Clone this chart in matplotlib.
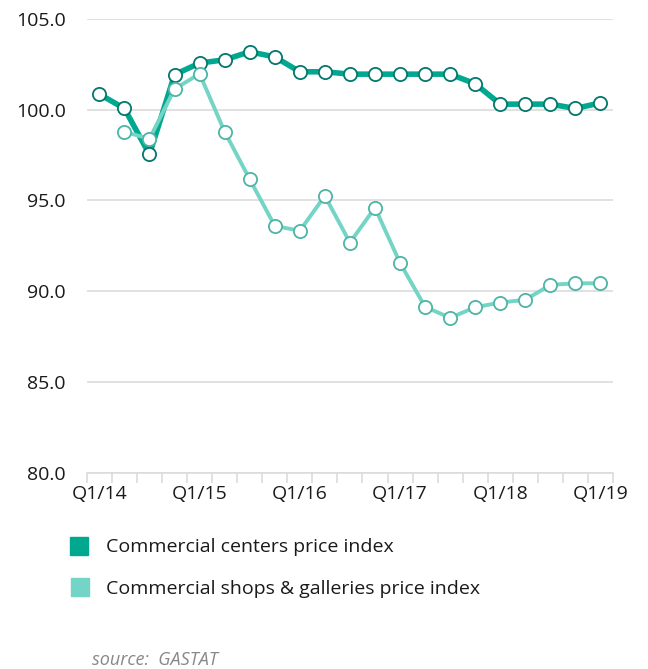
import matplotlib.pyplot as plt
import numpy as np

# quarterly price indices, Q1/14 .. Q1/19
quarters = ["Q1/14", "Q2/14", "Q3/14", "Q4/14",
            "Q1/15", "Q2/15", "Q3/15", "Q4/15",
            "Q1/16", "Q2/16", "Q3/16", "Q4/16",
            "Q1/17", "Q2/17", "Q3/17", "Q4/17",
            "Q1/18", "Q2/18", "Q3/18", "Q4/18",
            "Q1/19"]
centers = [100.85, 100.06, 97.53, 101.92, 102.56, 102.74, 103.18, 102.9,
           102.08, 102.08, 101.95, 101.95, 101.95, 101.95, 101.95, 101.42,
           100.3, 100.3, 100.3, 100.06, 100.37]
shops = [np.nan, 98.78, 98.39, 101.13, 101.97, 98.78, 96.17, 93.6,
         93.33, 95.25, 92.68, 94.6, 91.56, 89.14, 88.54, 89.12,
         89.38, 89.53, 90.35, 90.44, 90.44]

dark = "#00a890"
dark_edge = "#00786b"
light = "#74d4c5"
light_edge = "#4db5a5"
font = "Open Sans"
fs = 14

fig = plt.figure(figsize=(6.48, 6.69), dpi=100)
ax = fig.add_axes([0.134, 0.293, 0.812, 0.679])

x = np.arange(len(quarters))
ax.plot(x, centers, color=dark, lw=4, marker="o", ms=9.5, mfc="white",
        mec=dark_edge, mew=1.3, zorder=3, solid_capstyle="round")
ax.plot(x, shops, color=light, lw=2.8, marker="o", ms=9.5, mfc="white",
        mec=light_edge, mew=1.3, zorder=4, solid_capstyle="round")

ax.set_ylim(80, 105)
ax.set_xlim(-0.5, len(quarters) - 0.5)
ax.set_yticks(np.arange(80, 105.1, 5))
ax.set_yticklabels([f"{v:.1f}" for v in np.arange(80, 105.1, 5)],
                   fontsize=fs, family=font, color="#1a1a1a")
ax.yaxis.grid(True, color="#dcdcdc", lw=1.2)
ax.set_axisbelow(True)
ax.tick_params(axis="y", length=0, pad=15)

# tick marks between quarters, labels on every Q1
ax.set_xticks(np.arange(-0.5, len(quarters)), minor=True)
ax.set_xticks(x[::4])
ax.set_xticklabels(quarters[::4], fontsize=fs, family=font, color="#1a1a1a")
ax.tick_params(axis="x", which="major", length=0, pad=9)
ax.tick_params(axis="x", which="minor", length=7, color="#dcdcdc", width=1.2)

for s in ["top", "right", "left"]:
    ax.spines[s].set_visible(False)
ax.spines["bottom"].set_color("#dcdcdc")
ax.spines["bottom"].set_linewidth(1.2)

# legend squares and labels
fig.patches.append(plt.Rectangle((70 / 648, 1 - 555 / 669), 18 / 648, 18 / 669,
                                 color=dark, transform=fig.transFigure))
fig.patches.append(plt.Rectangle((71 / 648, 1 - 596 / 669), 18 / 648, 18 / 669,
                                 color=light, transform=fig.transFigure))
fig.text(106 / 648, 1 - 547 / 669, "Commercial centers price index",
         fontsize=fs, family=font, va="center", color="#1a1a1a")
fig.text(106 / 648, 1 - 589 / 669, "Commercial shops & galleries price index",
         fontsize=fs, family=font, va="center", color="#1a1a1a")
fig.text(92 / 648, 1 - 660 / 669, "source:  GASTAT", fontsize=13,
         family=font, style="italic", va="center", color="#888888")

fig.savefig("out.png", dpi=100)
